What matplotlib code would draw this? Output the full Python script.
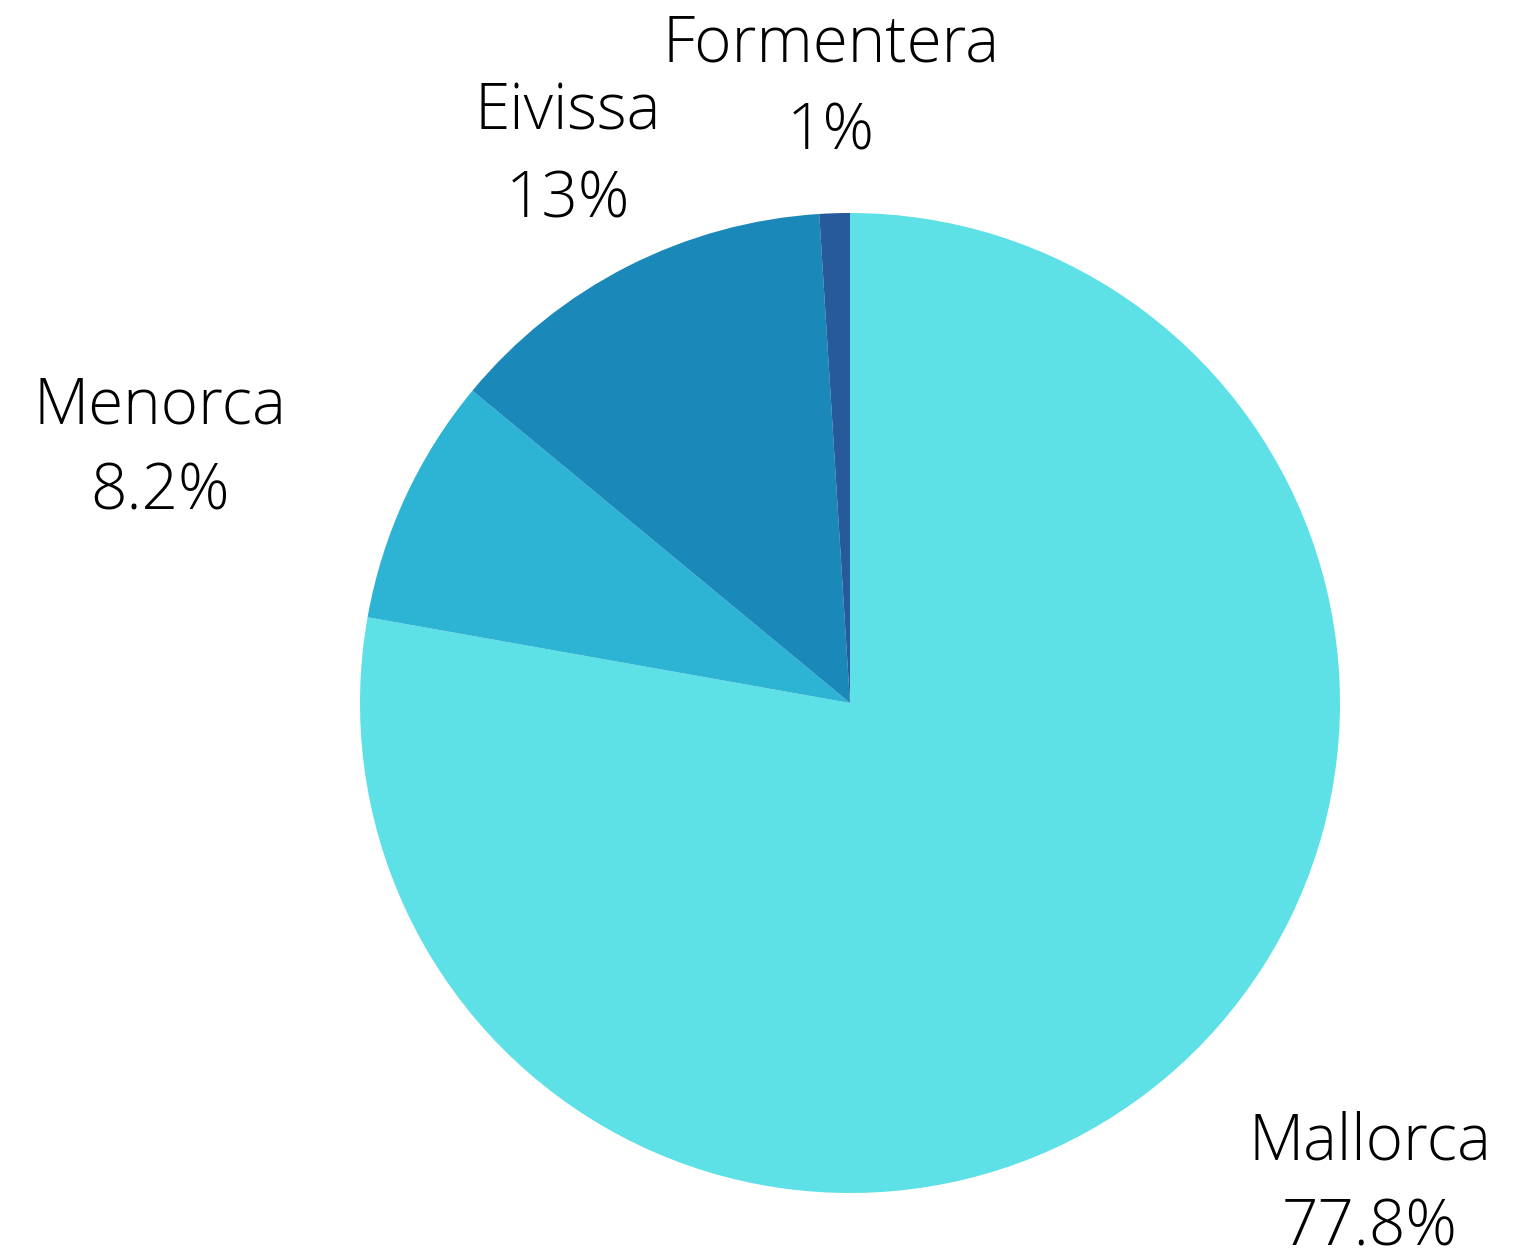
import matplotlib.pyplot as plt

islands = ['Mallorca', 'Menorca', 'Eivissa', 'Formentera']
shares = [77.8, 8.2, 13, 1]
share_labels = ['77.8%', '8.2%', '13%', '1%']
colors = ['#5DE0E6', '#2DB3D4', '#1A88B9', '#265A9A']

# label anchor positions in pixels (center x, name baseline y, pct baseline y)
label_px = [(1370, 1160, 1246), (160, 423, 510), (568, 130, 217), (831, 62, 150)]

W, H = 1537, 1256
cx, cy, r = 850, 703, 490

fig = plt.figure(figsize=(W / 100, H / 100), dpi=100)
ax = fig.add_axes([(cx - r) / W, (H - cy - r) / H, 2 * r / W, 2 * r / H])
ax.pie(shares, colors=colors, startangle=90, counterclock=False,
       radius=1, wedgeprops=dict(linewidth=0))
ax.set_xlim(-1, 1)
ax.set_ylim(-1, 1)
ax.set_aspect('equal')
ax.axis('off')

def to_data(px, py):
    return (px - cx) / r, (cy - py) / r

for name, pct, (lx, ny, py) in zip(islands, share_labels, label_px):
    x, y = to_data(lx, ny)
    ax.text(x, y, name, ha='center', va='baseline', fontsize=46,
            family='Open Sans', fontweight='light', color='black', clip_on=False)
    x, y = to_data(lx, py)
    ax.text(x, y, pct, ha='center', va='baseline', fontsize=46,
            family='Open Sans', fontweight='light', color='black', clip_on=False)

fig.savefig('out.png', dpi=100)
